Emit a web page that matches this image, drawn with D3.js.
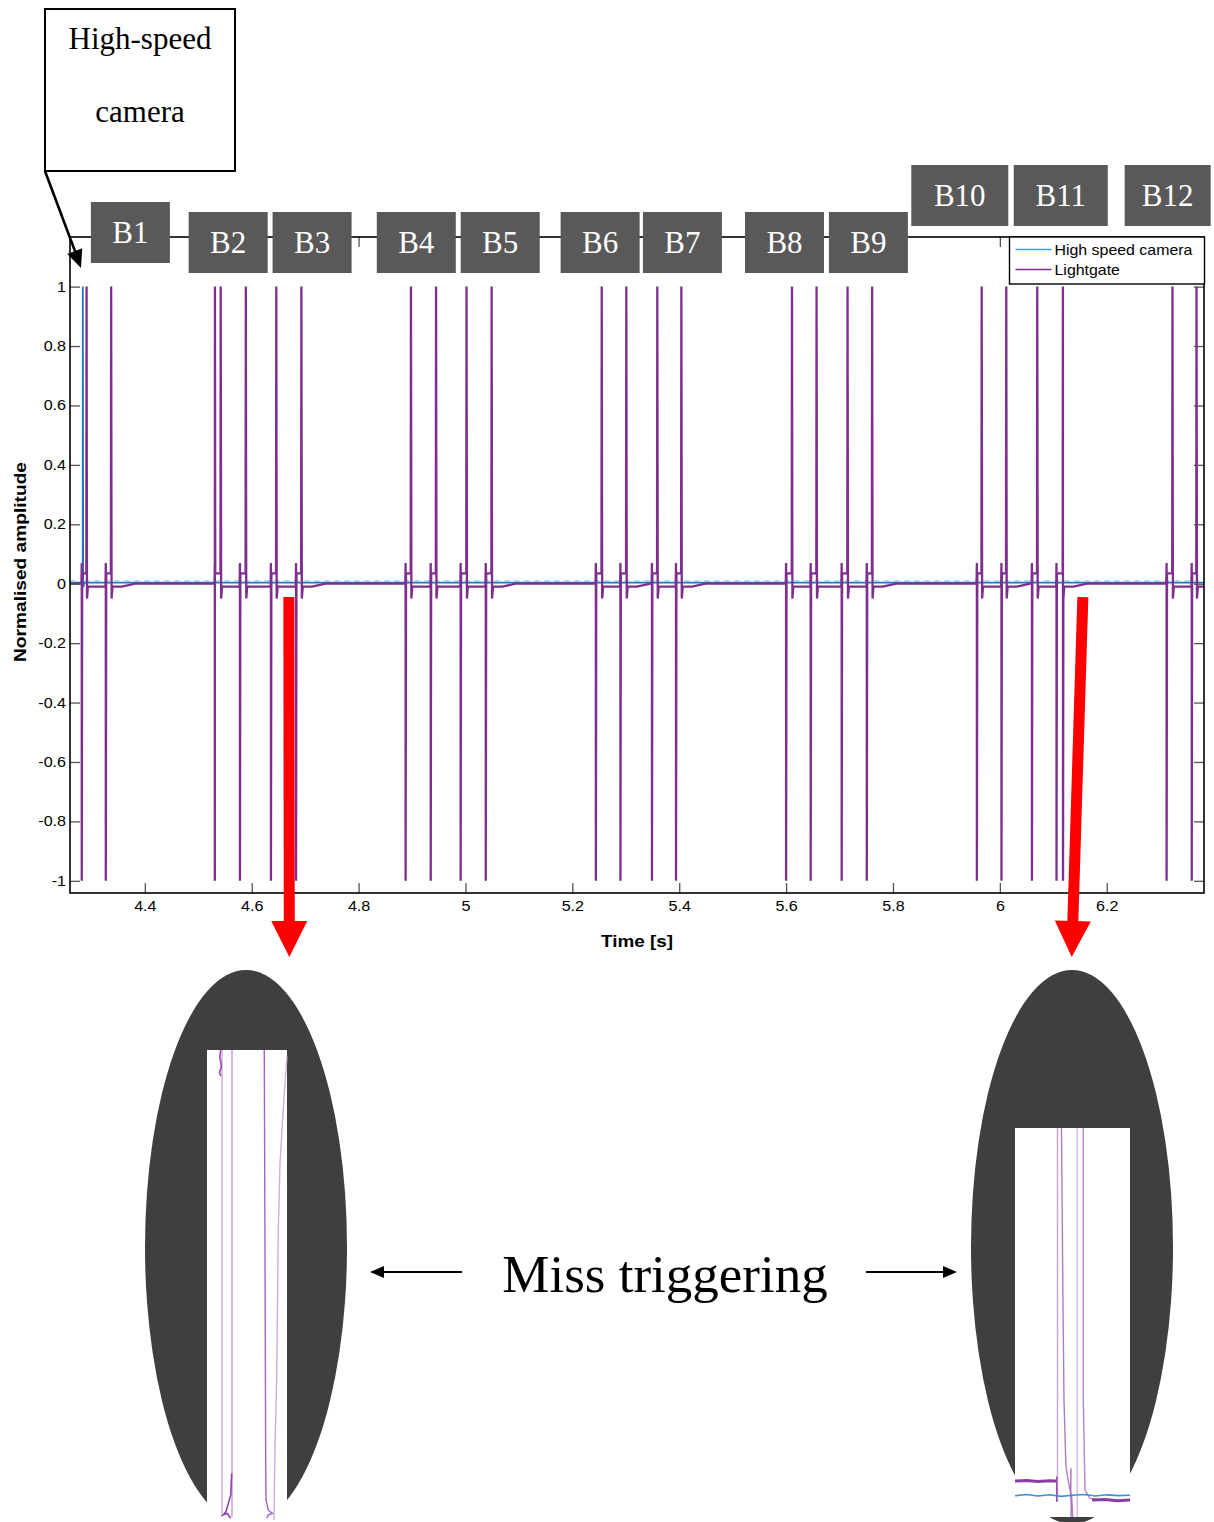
<!DOCTYPE html>
<html>
<head>
<meta charset="utf-8">
<script src="https://cdn.jsdelivr.net/npm/d3@7"></script>
<style>
  body { margin: 0; background: #fff; }
  svg { display: block; }
</style>
</head>
<body>
<script>
// ---------------- data ----------------
// Lightgate edges (s): falling edge (spike to -1) and rising edge (spike to +1) for each gate passage
const gateDown = [4.282, 4.327, 4.531, 4.578, 4.636, 4.683, 4.888, 4.935, 4.991, 5.038,
                  5.244, 5.290, 5.349, 5.394, 5.600, 5.646, 5.704, 5.751, 5.957, 6.003,
                  6.060, 6.106, 6.312, 6.359];
const gateUp   = [4.291, 4.337, 4.542, 4.589, 4.646, 4.693, 4.898, 4.945, 5.002, 5.049,
                  5.255, 5.301, 5.359, 5.404, 5.611, 5.657, 5.715, 5.761, 5.966, 6.012,
                  6.070, 6.118, 6.323, 6.368];
// spurious extra edges (miss triggering)
const extraUpAt   = [4.531];
const extraDownAt = [6.118];
// lightgate signal levels around an edge pair
const preLevel = 0.07, plateauLevel = 0.035, undershootLevel = -0.05, settleLevel = -0.01;

// High speed camera trace
const cameraT = [4.26, 4.2838, 4.2840, 4.2846, 4.2870, 6.382];
const cameraV = [0.004, 0.004, 1.0, -0.012, 0.004, 0.004];

// axes
const xTicks = [4.4, 4.6, 4.8, 5.0, 5.2, 5.4, 5.6, 5.8, 6.0, 6.2];
const xTickLabels = ["4.4", "4.6", "4.8", "5", "5.2", "5.4", "5.6", "5.8", "6", "6.2"];
const yTicks = [1, 0.8, 0.6, 0.4, 0.2, 0, -0.2, -0.4, -0.6, -0.8, -1];
const yTickLabels = ["1", "0.8", "0.6", "0.4", "0.2", "0", "-0.2", "-0.4", "-0.6", "-0.8", "-1"];
const seriesNames = ["High speed camera", "Lightgate"];

// ball labels and the time each label sits over
const ballLabels = ["B1", "B2", "B3", "B4", "B5", "B6", "B7", "B8", "B9", "B10", "B11", "B12"];
const ballTimes  = [4.373, 4.556, 4.713, 4.908, 5.065, 5.252, 5.406, 5.597, 5.754, 5.925, 6.114, 6.314];

// magnified views of the lightgate trace (normalised inset coordinates: u across, v up)
const leftInsetTraces = [
  [[0.1875, 1], [0.1875, 0.011]],
  [[0.17, 1], [0.16, 0.985], [0.18, 0.965], [0.155, 0.952], [0.175, 0.945]],
  [[0.3125, 1], [0.3125, 0.011]],
  [[0.309, 0.103], [0.296, 0.057], [0.2375, 0.022], [0.204, 0.015], [0.254, 0.018], [0.296, 0.008]],
  [[0.716, 1], [0.734, 0.117], [0.7375, 0.047], [0.766, 0.025], [0.821, 0.018], [0.766, 0.015], [0.746, 0.008]],
  [[1.0, 0.986], [0.9625, 0.901], [0.9125, 0.760], [0.891, 0.619], [0.871, 0.301], [0.85, 0.160], [0.8375, 0.004]]
];
const rightInsetTraces = [
  [[0.3696, 1], [0.3696, 0.039]],
  [[0.3626, 0.104], [0.3626, 0.039]],
  [[0.404, 1], [0.417, 0.558], [0.426, 0.301], [0.443, 0.129], [0.472, 0.078], [0.493, 0.052], [0.502, 0]],
  [[0.487, 0.125], [0.484, 0.06], [0.49, 0.03], [0.487, 0]],
  [[0.5417, 1], [0.5417, 0]],
  [[0.594, 1], [0.594, 0.30], [0.6087, 0.0694], [0.652, 0.048], [0.739, 0.0437]],
  [[0, 0.0925], [0.1, 0.094], [0.2, 0.091], [0.3, 0.093], [0.357, 0.0925]],
  [[0.67, 0.0437], [0.78, 0.045], [0.89, 0.042], [1.0, 0.044]],
  [[0, 0.0548], [0.1, 0.058], [0.2, 0.054], [0.3, 0.057], [0.4, 0.053], [0.5, 0.056], [0.6, 0.058], [0.7, 0.054], [0.8, 0.057], [0.9, 0.055], [1.0, 0.056]]
];

// ---------------- drawing ----------------
const W = 1214, H = 1522;
const svg = d3.select("body").append("svg").attr("width", W).attr("height", H)
  .attr("font-family", "'Liberation Sans', Arial, sans-serif");
svg.append("rect").attr("width", W).attr("height", H).attr("fill", "#fff");

const plot = { left: 70, right: 1204, top: 237, bottom: 893 };
const x = d3.scaleLinear().domain([4.26, 6.382]).range([plot.left, plot.right]);
const y = d3.scaleLinear().domain([-1.041, 1.167]).range([plot.bottom, plot.top]);
const line = d3.line().x(d => x(d[0])).y(d => y(d[1]));

const colCamera = "#1a78c2", colGate = "#7E2F8E";

// build the lightgate trace from the edge lists
const gatePts = [[x.domain()[0], 0]];
let base = 0;
gateDown.forEach((a, i) => {
  const b = gateUp[i];
  gatePts.push([a - 0.0006, base], [a, preLevel], [a, -1]);
  if (extraUpAt.includes(a)) gatePts.push([a + 0.0002, 1]);
  gatePts.push([a + 0.0008, plateauLevel], [b - 0.0005, plateauLevel], [b, 1]);
  if (extraDownAt.includes(b)) gatePts.push([b + 0.0002, -1]);
  gatePts.push([b + 0.0008, undershootLevel], [b + 0.0025, settleLevel]);
  const next = i + 1 < gateDown.length ? gateDown[i + 1] : x.domain()[1];
  if (b + 0.045 < next - 0.002) {
    gatePts.push([b + 0.02, settleLevel], [b + 0.045, 0]);
    base = 0;
  } else {
    base = settleLevel;
  }
});
gatePts.push([x.domain()[1], base]);

const cameraPts = cameraT.map((t, i) => [t, cameraV[i]]);
// flat stretches of the camera trace (before and after its trigger pulse)
const cameraFlat = [cameraPts.slice(0, 2), cameraPts.slice(4)];

const gLines = svg.append("g");
gLines.append("path").datum(cameraPts).attr("d", line)
  .attr("fill", "none").attr("stroke", colCamera).attr("stroke-width", 1.8);
cameraFlat.forEach(seg => {
  gLines.append("path").datum(seg).attr("d", line)
    .attr("transform", "translate(0,-1.6)")
    .attr("fill", "none").attr("stroke", "#8ccbf0").attr("stroke-width", 1.4)
    .attr("stroke-dasharray", "5,5");
});
gLines.append("path").datum(gatePts).attr("d", line)
  .attr("fill", "none").attr("stroke", colGate).attr("stroke-width", 2.3)
  .attr("stroke-linejoin", "miter");

// text stretch helper (the figure's fonts are wider than tall)
function stretch(sel, f) {
  sel.each(function () {
    const w = this.getComputedTextLength();
    d3.select(this).attr("textLength", w * f).attr("lengthAdjust", "spacingAndGlyphs");
  });
}

// axes with inward ticks on all four sides
const tickLen = 10;
const axB = svg.append("g").attr("transform", `translate(0,${plot.bottom})`)
  .call(d3.axisBottom(x).tickValues(xTicks).tickSize(-tickLen).tickPadding(8)
        .tickFormat((d, i) => xTickLabels[i]));
const axL = svg.append("g").attr("transform", `translate(${plot.left},0)`)
  .call(d3.axisLeft(y).tickValues(yTicks).tickSize(-tickLen).tickPadding(4)
        .tickFormat((d, i) => yTickLabels[i]));
const axT = svg.append("g").attr("transform", `translate(0,${plot.top})`)
  .call(d3.axisTop(x).tickValues(xTicks).tickSize(-tickLen).tickFormat(""));
const axR = svg.append("g").attr("transform", `translate(${plot.right},0)`)
  .call(d3.axisRight(y).tickValues(yTicks).tickSize(-tickLen).tickFormat(""));
[axB, axL, axT, axR].forEach(a => {
  a.select(".domain").remove();
  a.selectAll(".tick line").attr("stroke", "#555").attr("stroke-width", 1.3);
  a.selectAll("text").attr("font-size", 14).attr("fill", "#000")
    .attr("font-family", "'Liberation Sans', Arial, sans-serif");
});
stretch(axB.selectAll("text"), 1.15);
stretch(axL.selectAll("text"), 1.15);

// frame
svg.append("rect").attr("x", plot.left).attr("y", plot.top)
  .attr("width", plot.right - plot.left).attr("height", plot.bottom - plot.top)
  .attr("fill", "none").attr("stroke", "#000").attr("stroke-width", 1.6);

// axis labels
const xl = svg.append("text").attr("x", (plot.left + plot.right) / 2).attr("y", 947)
  .attr("text-anchor", "middle").attr("font-weight", "bold").attr("font-size", 16)
  .text("Time [s]");
xl.attr("textLength", 72).attr("lengthAdjust", "spacingAndGlyphs");
const yl = svg.append("text").attr("transform", "translate(26,562) rotate(-90)")
  .attr("text-anchor", "middle").attr("font-weight", "bold").attr("font-size", 16)
  .text("Normalised amplitude");
yl.attr("textLength", 200).attr("lengthAdjust", "spacingAndGlyphs");

// legend
const lg = svg.append("g").attr("transform", "translate(1009.5,237)");
lg.append("rect").attr("width", 195).attr("height", 47)
  .attr("fill", "#fff").attr("stroke", "#000").attr("stroke-width", 1.4);
[colCamera, colGate].forEach((c, i) => {
  const yy = 12.5 + i * 20;
  lg.append("line").attr("x1", 6).attr("x2", 42).attr("y1", yy).attr("y2", yy)
    .attr("stroke", i === 0 ? "#3a9ee0" : colGate).attr("stroke-width", 1.3);
  const t = lg.append("text").attr("x", 45).attr("y", yy + 5.5).attr("font-size", 15)
    .text(seriesNames[i]);
  stretch(t, 1.06);
});

// ball label boxes
const boxRows = { low: 202, mid: 212, high: 165 };
ballLabels.forEach((lab, i) => {
  const cx = x(ballTimes[i]);
  let w = 79, h = 61, top = boxRows.mid;
  if (i === 0) top = boxRows.low;
  if (i >= 9) { top = boxRows.high; w = [97, 94, 86][i - 9]; }
  const g = svg.append("g");
  g.append("rect").attr("x", cx - w / 2).attr("y", top).attr("width", w).attr("height", h)
    .attr("fill", "#595959");
  g.append("text").attr("x", cx).attr("y", top + h / 2 + 10.5)
    .attr("text-anchor", "middle").attr("fill", "#fff")
    .attr("font-family", "'Liberation Serif', 'Times New Roman', serif").attr("font-size", 31)
    .text(lab);
});

// "High-speed camera" callout pointing at the camera trigger
const serif = "'Liberation Serif', 'Times New Roman', serif";
svg.append("rect").attr("x", 45).attr("y", 9).attr("width", 190).attr("height", 162)
  .attr("fill", "#fff").attr("stroke", "#000").attr("stroke-width", 2);
svg.append("text").attr("x", 140).attr("y", 49).attr("text-anchor", "middle")
  .attr("font-family", serif).attr("font-size", 31).text("High-speed");
svg.append("text").attr("x", 140).attr("y", 122).attr("text-anchor", "middle")
  .attr("font-family", serif).attr("font-size", 31).text("camera");

function arrowHead(g, tip, from, len, half, color) {
  const dx = tip[0] - from[0], dy = tip[1] - from[1];
  const L = Math.hypot(dx, dy), ux = dx / L, uy = dy / L;
  const bx = tip[0] - ux * len, by = tip[1] - uy * len;
  g.append("polygon").attr("points", [
    [tip[0], tip[1]], [bx - uy * half, by + ux * half], [bx + uy * half, by - ux * half]
  ].map(p => p.join(",")).join(" ")).attr("fill", color);
  return [bx, by];
}
const ann = svg.append("g");
{
  const from = [45, 171], tip = [81, 268];
  const b = arrowHead(ann, tip, from, 18, 8, "#000");
  ann.append("line").attr("x1", from[0]).attr("y1", from[1]).attr("x2", b[0] + 1).attr("y2", b[1] + 2)
    .attr("stroke", "#000").attr("stroke-width", 2.6);
}

// red arrows from the misfired pulses down to the magnified views
const redArrows = [
  { t: 4.6695, v: -0.045, end: [289.3, 957] },
  { t: 6.1553, v: -0.045, end: [1071.7, 957] }
];
redArrows.forEach(a => {
  const start = [x(a.t), y(a.v)];
  const b = arrowHead(ann, a.end, start, 36, 18, "#ff0000");
  ann.append("line").attr("x1", start[0]).attr("y1", start[1]).attr("x2", b[0]).attr("y2", b[1] + 1)
    .attr("stroke", "#ff0000").attr("stroke-width", 11);
});

// magnified views
function inset(cx, rect, traces, styles) {
  const g = svg.append("g");
  g.append("ellipse").attr("cx", cx).attr("cy", 1247).attr("rx", 101).attr("ry", 277)
    .attr("fill", "#3f3f3f");
  g.append("rect").attr("x", rect.x).attr("y", rect.y).attr("width", rect.w).attr("height", rect.h)
    .attr("fill", "#fff");
  const u = d3.scaleLinear().domain([0, 1]).range([rect.x, rect.x + rect.w]);
  const v = d3.scaleLinear().domain([0, 1]).range([rect.y + rect.h, rect.y]);
  const ln = d3.line().x(d => u(d[0])).y(d => v(d[1]));
  traces.forEach((tr, i) => {
    g.append("path").datum(tr).attr("d", ln).attr("fill", "none")
      .attr("stroke", styles[i][0]).attr("stroke-width", styles[i][1]);
  });
}
inset(246, { x: 207, y: 1050, w: 80, h: 472 }, leftInsetTraces, [
  ["#c9a3d6", 1.3], ["#9b4fb0", 1.6], ["#c9a3d6", 1.5], ["#8e44ad", 1.6], ["#a463bd", 1.4], ["#cfadda", 1.4]
]);
inset(1072, { x: 1015, y: 1128, w: 115, h: 389 }, rightInsetTraces, [
  ["#c9a3d6", 1.4], ["#9a4fb3", 1.5], ["#b07cc4", 1.4], ["#a86ac0", 1.4], ["#d6b8e0", 1.4],
  ["#b683c8", 1.4], ["#8a3da3", 3], ["#8a3da3", 3], ["#3d8fd8", 1.6]
]);

// "Miss triggering" caption with pointers to both views
svg.append("text").attr("x", 665).attr("y", 1292).attr("text-anchor", "middle")
  .attr("font-family", serif).attr("font-size", 53).text("Miss triggering");
[[462, 370], [866, 957]].forEach(([x0, x1]) => {
  const b = arrowHead(ann, [x1, 1272], [x0, 1272], 14, 6, "#000");
  ann.append("line").attr("x1", x0).attr("y1", 1272).attr("x2", b[0]).attr("y2", 1272)
    .attr("stroke", "#000").attr("stroke-width", 2.2);
});
</script>
</body>
</html>
